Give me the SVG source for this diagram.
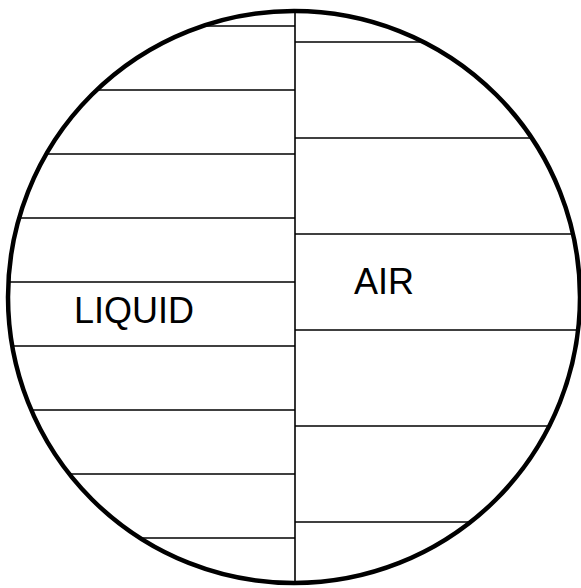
<svg xmlns="http://www.w3.org/2000/svg" width="581" height="588" viewBox="0 0 581 588">
  <style>
    .ln { stroke: #000; stroke-width: 1.6; fill: none; }
    .rim { stroke: #000; stroke-width: 4.5; fill: none; }
    .lbl { font-family: "Liberation Sans", Arial, sans-serif; font-size: 36px; fill: #000; }
  </style>
  <defs>
    <clipPath id="inside">
      <circle cx="294" cy="297" r="285"/>
    </clipPath>
  </defs>
  <rect width="581" height="588" fill="#fff"/>
  <g id="connectors" clip-path="url(#inside)">
    <line class="ln" x1="295" y1="0" x2="295" y2="588"/>
    <g id="liquid-lines">
      <line class="ln" x1="0" y1="26" x2="295" y2="26"/>
      <line class="ln" x1="0" y1="90" x2="295" y2="90"/>
      <line class="ln" x1="0" y1="154" x2="295" y2="154"/>
      <line class="ln" x1="0" y1="218" x2="295" y2="218"/>
      <line class="ln" x1="0" y1="282" x2="295" y2="282"/>
      <line class="ln" x1="0" y1="346" x2="295" y2="346"/>
      <line class="ln" x1="0" y1="410" x2="295" y2="410"/>
      <line class="ln" x1="0" y1="474" x2="295" y2="474"/>
      <line class="ln" x1="0" y1="538" x2="295" y2="538"/>
    </g>
    <g id="air-lines">
      <line class="ln" x1="295" y1="42" x2="581" y2="42"/>
      <line class="ln" x1="295" y1="138" x2="581" y2="138"/>
      <line class="ln" x1="295" y1="234" x2="581" y2="234"/>
      <line class="ln" x1="295" y1="330" x2="581" y2="330"/>
      <line class="ln" x1="295" y1="426" x2="581" y2="426"/>
      <line class="ln" x1="295" y1="522" x2="581" y2="522"/>
    </g>
  </g>
  <g id="boundary">
    <circle class="rim" cx="294" cy="297" r="286"/>
  </g>
  <g id="liquid">
    <text class="lbl" x="74" y="323">LIQUID</text>
  </g>
  <g id="air">
    <text class="lbl" x="354" y="294">AIR</text>
  </g>
</svg>
